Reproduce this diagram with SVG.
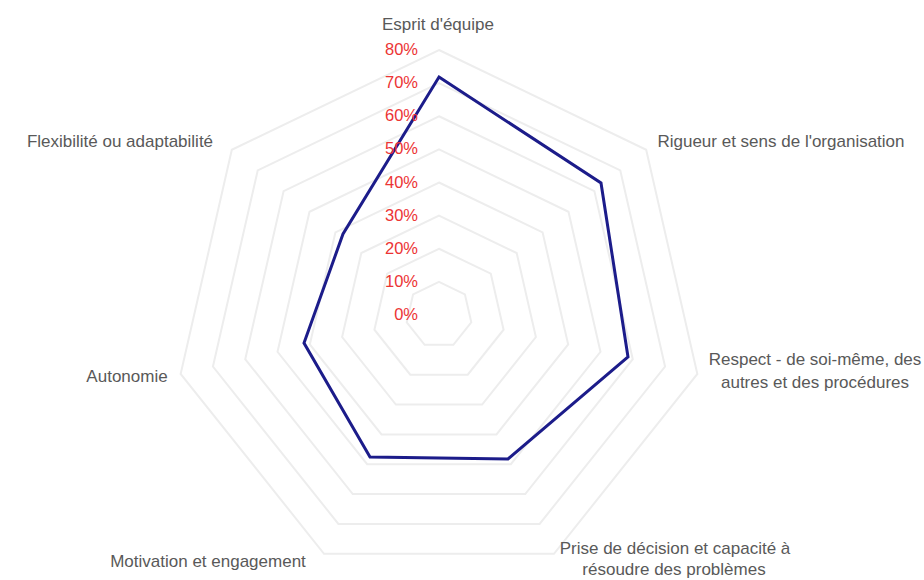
<svg xmlns="http://www.w3.org/2000/svg" width="924" height="580" viewBox="0 0 924 580">
  <style>
    .grid { fill: none; stroke: #ededed; stroke-width: 2; }
    .data { fill: none; stroke: #1c1c8a; stroke-width: 3; stroke-linejoin: miter; }
    .cat { font-family: "Liberation Sans", Arial, sans-serif; font-size: 17px; fill: #595959; text-anchor: middle; }
    .pct { font-family: "Liberation Sans", Arial, sans-serif; font-size: 16.5px; fill: #ec3434; text-anchor: end; }
  </style>
  <rect x="0" y="0" width="924" height="580" fill="#ffffff"/>

  <g id="grid">
    <polygon class="grid" points="439,281.88 464.90,294.35 471.29,322.37 453.37,344.84 424.63,344.84 406.71,322.37 413.10,294.35"/>
    <polygon class="grid" points="439,248.75 490.80,273.69 503.59,329.74 467.74,374.69 410.26,374.69 374.41,329.74 387.20,273.69"/>
    <polygon class="grid" points="439,215.63 516.69,253.04 535.88,337.11 482.12,404.53 395.88,404.53 342.12,337.11 361.31,253.04"/>
    <polygon class="grid" points="439,182.5 542.59,232.39 568.18,344.48 496.49,434.38 381.51,434.38 309.82,344.48 335.41,232.39"/>
    <polygon class="grid" points="439,149.38 568.49,211.73 600.47,351.85 510.86,464.22 367.14,464.22 277.53,351.85 309.51,211.73"/>
    <polygon class="grid" points="439,116.25 594.39,191.08 632.77,359.23 525.23,494.07 352.77,494.07 245.23,359.23 283.61,191.08"/>
    <polygon class="grid" points="439,83.13 620.29,170.43 665.06,366.60 539.61,523.91 338.39,523.91 212.94,366.60 257.71,170.43"/>
    <polygon class="grid" points="439,50 646.18,149.78 697.36,373.97 553.98,553.76 324.02,553.76 180.64,373.97 231.82,149.78"/>
  </g>

  <g id="series">
    <polygon class="data" points="439,77 601,183 628,357 508,459 370,457 304,343 343,234"/>
  </g>

  <g id="value-axis">
    <text class="pct" x="418" y="320">0%</text>
    <text class="pct" x="418" y="287">10%</text>
    <text class="pct" x="418" y="254">20%</text>
    <text class="pct" x="418" y="221">30%</text>
    <text class="pct" x="418" y="188">40%</text>
    <text class="pct" x="418" y="154">50%</text>
    <text class="pct" x="418" y="121">60%</text>
    <text class="pct" x="418" y="88">70%</text>
    <text class="pct" x="418" y="55">80%</text>
  </g>

  <g id="cat-esprit"><text class="cat" x="438" y="30">Esprit d'équipe</text></g>
  <g id="cat-rigueur"><text class="cat" x="781" y="147">Rigueur et sens de l'organisation</text></g>
  <g id="cat-respect">
    <text class="cat" x="815" y="365">Respect - de soi-même, des</text>
    <text class="cat" x="815" y="388">autres et des procédures</text>
  </g>
  <g id="cat-prise">
    <text class="cat" x="675" y="554">Prise de décision et capacité à</text>
    <text class="cat" x="674" y="575">résoudre des problèmes</text>
  </g>
  <g id="cat-motivation"><text class="cat" x="208" y="567">Motivation et engagement</text></g>
  <g id="cat-autonomie"><text class="cat" x="127" y="382">Autonomie</text></g>
  <g id="cat-flexibilite"><text class="cat" x="120" y="147">Flexibilité ou adaptabilité</text></g>
</svg>
